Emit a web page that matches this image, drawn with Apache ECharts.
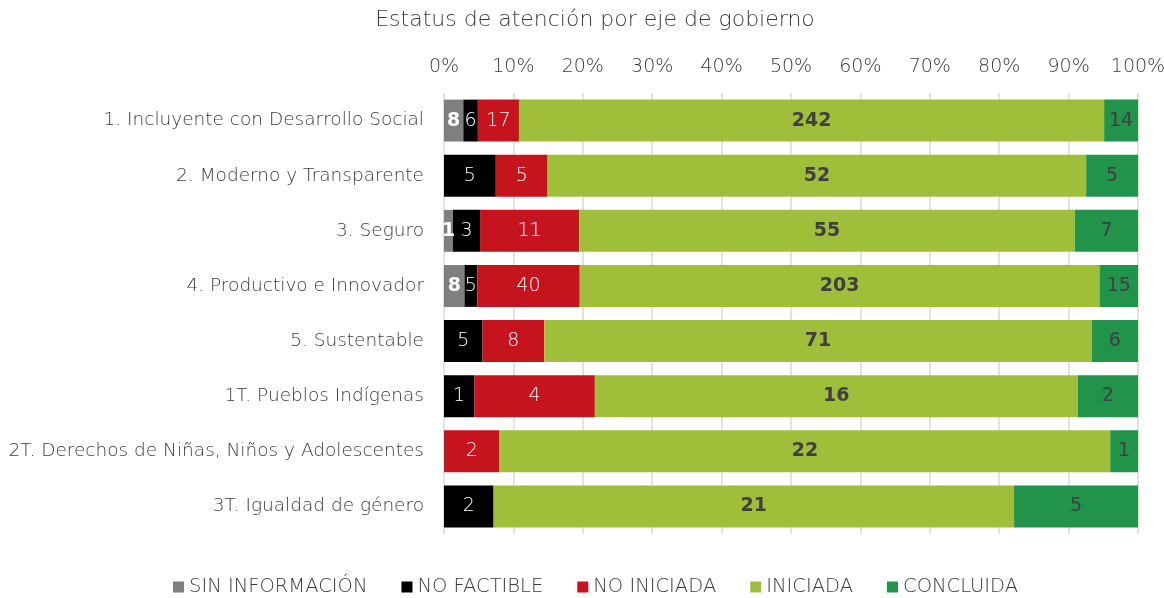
<!DOCTYPE html>
<html><head><meta charset="utf-8">
<script src="https://cdn.jsdelivr.net/npm/echarts@6/dist/echarts.min.js"></script>
<style>html,body{margin:0;padding:0;background:#fff}#c{width:1164px;height:598px}</style>
</head><body><div id="c"></div>
<script>
const categories = ["1. Incluyente con Desarrollo Social","2. Moderno y Transparente","3. Seguro","4. Productivo e Innovador","5. Sustentable","1T. Pueblos Indígenas","2T. Derechos de Niñas, Niños y Adolescentes","3T. Igualdad de género"];
const sinInformacion = [8,0,1,8,0,0,0,0];
const noFactible = [6,5,3,5,5,1,0,2];
const noIniciada = [17,5,11,40,8,4,2,0];
const iniciada = [242,52,55,203,71,16,22,21];
const concluida = [14,5,7,15,6,2,1,5];
const tickLabels = ["0%","10%","20%","30%","40%","50%","60%","70%","80%","90%","100%"];

const seriesDefs = [
  {name:"SIN INFORMACIÓN", data:sinInformacion, color:"#7F7F7F", label:"#ffffff", weight:"bold"},
  {name:"NO FACTIBLE", data:noFactible, color:"#000000", label:"#ffffff", weight:200},
  {name:"NO INICIADA", data:noIniciada, color:"#C5141D", label:"#ffffff", weight:200},
  {name:"INICIADA", data:iniciada, color:"#9FBF3B", label:"#404040", weight:"bold"},
  {name:"CONCLUIDA", data:concluida, color:"#21934B", label:"#404040", weight:"normal"}
];
const totals = categories.map((_, i) => seriesDefs.reduce((s, d) => s + d.data[i], 0));
const FONT = "DejaVu Sans";
const TXT = '#3a3a3a';
const chart = echarts.init(document.getElementById('c'), null, {renderer:'canvas'});
chart.setOption({
  animation:false,
  title:{text:"Estatus de atención por eje de gobierno", left:590, top:4, textAlign:'center',
    textStyle:{fontFamily:FONT, fontWeight:200, fontSize:22, color:TXT}},
  legend:{top:572, left:168, itemWidth:11, itemHeight:11, itemGap:34, itemTextGap:4, icon:'rect',
    textStyle:{fontFamily:FONT, fontWeight:200, fontSize:19.5, color:TXT},
    data:seriesDefs.map(d=>d.name)},
  grid:{left:444, right:26, top:93, bottom:64, outerBoundsMode:'none', containLabel:false},
  xAxis:{type:'value', position:'top', min:0, max:1, interval:0.1,
    axisLabel:{formatter:v=>tickLabels[Math.round(v*10)], fontFamily:FONT, fontWeight:200, fontSize:19, color:TXT, margin:16},
    axisLine:{show:false}, axisTick:{show:false},
    splitLine:{show:true, lineStyle:{color:'#D9D9D9', width:1.5}}},
  yAxis:{type:'category', inverse:true, data:categories,
    axisLabel:{fontFamily:FONT, fontWeight:200, fontSize:18.5, color:TXT, margin:20},
    axisLine:{show:false}, axisTick:{show:false}},
  series:seriesDefs.map(d=>({
    name:d.name, type:'bar', stack:'t', barCategoryGap:'24%', color:d.color,
    data:d.data.map((v,i)=>({value:v/totals[i], raw:v})),
    label:{show:true, position:'inside', fontFamily:FONT, fontSize:19, color:d.label, fontWeight:d.weight,
      formatter:p=>p.data.raw>0?String(p.data.raw):''}
  }))
});
</script></body></html>
